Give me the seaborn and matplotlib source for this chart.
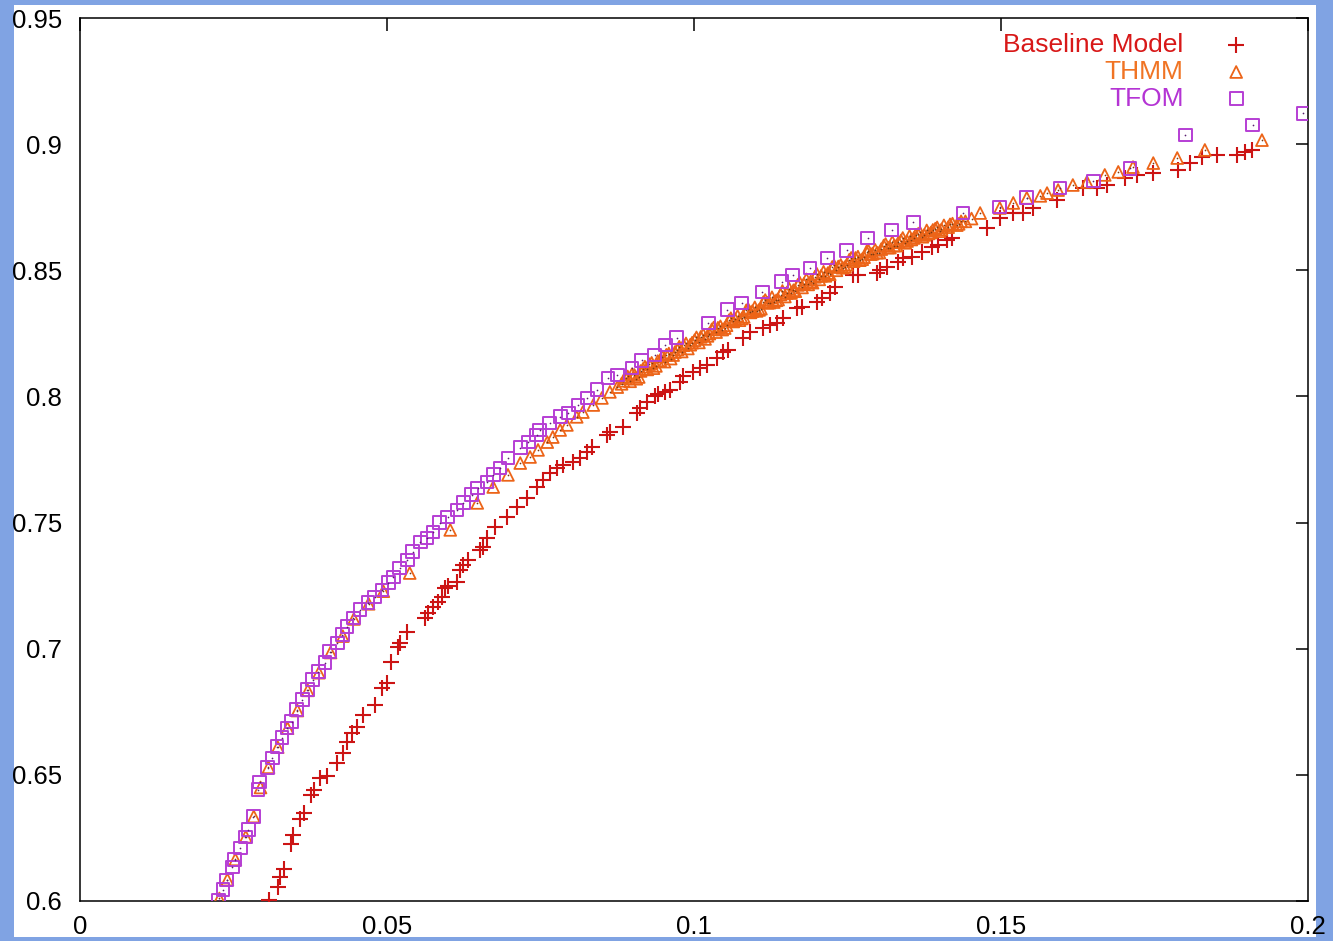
import matplotlib
matplotlib.use("Agg")
import matplotlib.pyplot as plt
import seaborn as sns
from matplotlib.patches import Rectangle

# ---- Baseline Model ----
base_x = [0.0308, 0.0322, 0.0326, 0.0332, 0.0344, 0.0347, 0.0358, 0.0365, 0.0376, 0.0381,
          0.0391, 0.0402, 0.0419, 0.0428, 0.0435, 0.0443, 0.0451, 0.0461, 0.0480, 0.0492,
          0.0500, 0.0507, 0.0518, 0.0521, 0.0533, 0.0562, 0.0567, 0.0575, 0.0583, 0.0590,
          0.0594, 0.0599, 0.0614, 0.0619, 0.0624, 0.0632, 0.0651, 0.0656, 0.0663, 0.0676,
          0.0695, 0.0712, 0.0728, 0.0744, 0.0754, 0.0765, 0.0777, 0.0787, 0.0803, 0.0814,
          0.0826, 0.0834, 0.0858, 0.0863, 0.0884, 0.0907, 0.0912, 0.0923, 0.0936, 0.0941,
          0.0953, 0.0961, 0.0977, 0.0982, 0.0998, 0.1010, 0.1021, 0.1037, 0.1047, 0.1055,
          0.1080, 0.1091, 0.1112, 0.1124, 0.1135, 0.1145, 0.1168, 0.1176, 0.1200, 0.1208,
          0.1221, 0.1230, 0.1259, 0.1267, 0.1298, 0.1303, 0.1314, 0.1332, 0.1340, 0.1355,
          0.1371, 0.1388, 0.1397, 0.1412, 0.1420, 0.1477, 0.1498, 0.1520, 0.1536, 0.1552,
          0.1591, 0.1634, 0.1656, 0.1673, 0.1702, 0.1722, 0.1748, 0.1788, 0.1808, 0.1827,
          0.1852, 0.1884, 0.1897, 0.1909]
base_y = [0.6004, 0.6055, 0.6095, 0.6127, 0.6226, 0.6262, 0.6325, 0.6349, 0.6420, 0.6440,
          0.6488, 0.6495, 0.6547, 0.6587, 0.6630, 0.6666, 0.6690, 0.6737, 0.6777, 0.6844,
          0.6864, 0.6947, 0.7007, 0.7023, 0.7066, 0.7122, 0.7141, 0.7165, 0.7185, 0.7205,
          0.7241, 0.7249, 0.7265, 0.7312, 0.7332, 0.7352, 0.7392, 0.7404, 0.7440, 0.7483,
          0.7523, 0.7563, 0.7598, 0.7642, 0.7670, 0.7698, 0.7717, 0.7729, 0.7741, 0.7757,
          0.7781, 0.7801, 0.7849, 0.7860, 0.7880, 0.7936, 0.7956, 0.7976, 0.8000, 0.8008,
          0.8019, 0.8027, 0.8059, 0.8079, 0.8098, 0.8114, 0.8126, 0.8153, 0.8177, 0.8185,
          0.8233, 0.8256, 0.8272, 0.8284, 0.8292, 0.8312, 0.8351, 0.8355, 0.8375, 0.8391,
          0.8411, 0.8434, 0.8482, 0.8482, 0.8490, 0.8502, 0.8513, 0.8533, 0.8549, 0.8553,
          0.8573, 0.8592, 0.8600, 0.8620, 0.8628, 0.8668, 0.8707, 0.8727, 0.8727, 0.8747,
          0.8779, 0.8826, 0.8826, 0.8838, 0.8866, 0.8878, 0.8886, 0.8898, 0.8925, 0.8949,
          0.8957, 0.8957, 0.8969, 0.8977]

# ---- THMM ----
thmm_x = [0.0227, 0.0240, 0.0253, 0.0270, 0.0283, 0.0294, 0.0307, 0.0322, 0.0338, 0.0354,
          0.0371, 0.0389, 0.0408, 0.0428, 0.0446, 0.0470, 0.0494, 0.0537, 0.0603, 0.0647,
          0.0673, 0.0697, 0.0717, 0.0733, 0.0746, 0.0761, 0.0770, 0.0782, 0.0793, 0.0809,
          0.0819, 0.0836, 0.0850, 0.0863, 0.0875,
          0.0882, 0.0889, 0.0896, 0.0903, 0.0910, 0.0917, 0.0924, 0.0931, 0.0938, 0.0945,
          0.0952, 0.0959, 0.0966, 0.0973, 0.0980, 0.0987, 0.0994, 0.1001, 0.1008, 0.1015,
          0.1022, 0.1029, 0.1036, 0.1043, 0.1050, 0.1057, 0.1064, 0.1071, 0.1078, 0.1085,
          0.1092, 0.1099, 0.1106, 0.1113, 0.1120, 0.1127, 0.1134, 0.1141, 0.1148, 0.1155,
          0.1162, 0.1169, 0.1176, 0.1183, 0.1190, 0.1197, 0.1204, 0.1211, 0.1218, 0.1225,
          0.1232, 0.1239, 0.1246, 0.1253, 0.1260, 0.1267, 0.1274, 0.1281, 0.1288, 0.1295,
          0.1302, 0.1309, 0.1316, 0.1323, 0.1330, 0.1337, 0.1344, 0.1351, 0.1358, 0.1365,
          0.1372, 0.1379, 0.1386, 0.1393, 0.1400, 0.1407, 0.1414, 0.1421, 0.1428, 0.1435,
          0.1442, 0.1452,
          0.0885, 0.0899, 0.0913, 0.0927, 0.0941, 0.0955, 0.0969, 0.0983, 0.0997, 0.1011,
          0.1025, 0.1039, 0.1053, 0.1067, 0.1081, 0.1095, 0.1109, 0.1123, 0.1137, 0.1151,
          0.1165, 0.1179, 0.1193, 0.1207, 0.1221, 0.1235, 0.1249, 0.1263, 0.1277, 0.1291,
          0.1305, 0.1319, 0.1333, 0.1347, 0.1361, 0.1375, 0.1389, 0.1403, 0.1417, 0.1431,
          0.0892, 0.0906, 0.0920, 0.0934, 0.0948, 0.0962, 0.0976, 0.0990, 0.1004, 0.1018,
          0.1032, 0.1046, 0.1060, 0.1074, 0.1088, 0.1102, 0.1116, 0.1130, 0.1144, 0.1158,
          0.1172, 0.1186, 0.1200, 0.1214, 0.1228, 0.1242, 0.1256, 0.1270, 0.1284, 0.1298,
          0.1312, 0.1326, 0.1340, 0.1354, 0.1368, 0.1382, 0.1396,
          0.1466, 0.1498, 0.1520, 0.1542, 0.1564, 0.1575, 0.1593, 0.1617, 0.1640, 0.1669,
          0.1691, 0.1715, 0.1748, 0.1787, 0.1832, 0.1925]
thmm_y = [0.6010, 0.6085, 0.6165, 0.6255, 0.6335, 0.6450, 0.6530, 0.6610, 0.6685, 0.6755,
          0.6835, 0.6905, 0.6985, 0.7050, 0.7118, 0.7178, 0.7228, 0.7300, 0.7471, 0.7578,
          0.7641, 0.7689, 0.7736, 0.7760, 0.7788, 0.7819, 0.7839, 0.7867, 0.7887, 0.7919,
          0.7938, 0.7966, 0.7994, 0.8018, 0.8037,
          0.8050, 0.8072, 0.8060, 0.8085, 0.8077, 0.8109, 0.8107, 0.8133, 0.8121, 0.8143,
          0.8138, 0.8170, 0.8164, 0.8186, 0.8178, 0.8210, 0.8205, 0.8223, 0.8214, 0.8245,
          0.8240, 0.8266, 0.8255, 0.8278, 0.8271, 0.8302, 0.8297, 0.8319, 0.8309, 0.8341,
          0.8333, 0.8353, 0.8343, 0.8374, 0.8371, 0.8393, 0.8381, 0.8404, 0.8396, 0.8427,
          0.8421, 0.8442, 0.8432, 0.8464, 0.8456, 0.8474, 0.8464, 0.8494, 0.8489, 0.8513,
          0.8500, 0.8521, 0.8513, 0.8542, 0.8536, 0.8554, 0.8544, 0.8574, 0.8564, 0.8581,
          0.8570, 0.8598, 0.8590, 0.8612, 0.8598, 0.8618, 0.8609, 0.8636, 0.8628, 0.8644,
          0.8633, 0.8658, 0.8650, 0.8665, 0.8655, 0.8678, 0.8671, 0.8685, 0.8679, 0.8694,
          0.8694, 0.8705,
          0.8062, 0.8088, 0.8101, 0.8128, 0.8140, 0.8165, 0.8176, 0.8203, 0.8213, 0.8236,
          0.8249, 0.8272, 0.8282, 0.8306, 0.8315, 0.8338, 0.8348, 0.8372, 0.8384, 0.8410,
          0.8417, 0.8446, 0.8451, 0.8478, 0.8484, 0.8515, 0.8522, 0.8549, 0.8552, 0.8566,
          0.8584, 0.8590, 0.8611, 0.8616, 0.8640, 0.8640, 0.8660, 0.8662, 0.8682, 0.8684,
          0.8079, 0.8070, 0.8118, 0.8112, 0.8158, 0.8150, 0.8197, 0.8190, 0.8234, 0.8228,
          0.8273, 0.8265, 0.8310, 0.8302, 0.8347, 0.8339, 0.8382, 0.8374, 0.8418, 0.8410,
          0.8452, 0.8444, 0.8486, 0.8478, 0.8519, 0.8510, 0.8549, 0.8540, 0.8578, 0.8570,
          0.8604, 0.8598, 0.8628, 0.8622, 0.8650, 0.8646, 0.8670,
          0.8727, 0.8747, 0.8767, 0.8787, 0.8795, 0.8806, 0.8818, 0.8838, 0.8850, 0.8878,
          0.8890, 0.8909, 0.8925, 0.8945, 0.8977, 0.9016]

# ---- TFOM ----
tfom_x = [0.0226, 0.0233, 0.0239, 0.0248, 0.0252, 0.0261, 0.0269, 0.0274, 0.0282, 0.0290,
          0.0293, 0.0306, 0.0313, 0.0321, 0.0329, 0.0337, 0.0345, 0.0353, 0.0362, 0.0370,
          0.0379, 0.0388, 0.0399, 0.0407, 0.0419, 0.0427, 0.0435, 0.0445, 0.0456, 0.0469,
          0.0480, 0.0492, 0.0502, 0.0510, 0.0521, 0.0533, 0.0542, 0.0554, 0.0565, 0.0575,
          0.0586, 0.0599, 0.0614, 0.0624, 0.0638, 0.0648, 0.0663, 0.0673, 0.0684, 0.0697,
          0.0717, 0.0730, 0.0744, 0.0749, 0.0765, 0.0782, 0.0795, 0.0811, 0.0826, 0.0842,
          0.0860, 0.0875, 0.0899, 0.0915, 0.0936, 0.0953, 0.0972, 0.1023, 0.1054, 0.1078,
          0.1111, 0.1143, 0.1161, 0.1189, 0.1217, 0.1249, 0.1283, 0.1322, 0.1357, 0.1438,
          0.1498, 0.1542, 0.1596, 0.1650, 0.1710, 0.1800, 0.1910, 0.1992]
tfom_y = [0.6004, 0.6044, 0.6083, 0.6135, 0.6163, 0.6210, 0.6254, 0.6282, 0.6334, 0.6441,
          0.6472, 0.6528, 0.6567, 0.6611, 0.6647, 0.6686, 0.6710, 0.6758, 0.6798, 0.6837,
          0.6877, 0.6909, 0.6944, 0.6988, 0.7023, 0.7055, 0.7087, 0.7122, 0.7154, 0.7182,
          0.7205, 0.7233, 0.7261, 0.7284, 0.7320, 0.7352, 0.7384, 0.7423, 0.7439, 0.7463,
          0.7499, 0.7522, 0.7550, 0.7578, 0.7610, 0.7637, 0.7661, 0.7689, 0.7716, 0.7756,
          0.7796, 0.7819, 0.7847, 0.7867, 0.7895, 0.7919, 0.7934, 0.7966, 0.7994, 0.8026,
          0.8073, 0.8085, 0.8113, 0.8144, 0.8164, 0.8204, 0.8232, 0.8291, 0.8343, 0.8370,
          0.8414, 0.8454, 0.8481, 0.8509, 0.8549, 0.8580, 0.8628, 0.8660, 0.8691, 0.8727,
          0.8751, 0.8787, 0.8826, 0.8854, 0.8905, 0.9036, 0.9076, 0.9123]

x_ticks = [0, 0.05, 0.1, 0.15, 0.2]
x_tick_labels = ["0", "0.05", "0.1", "0.15", "0.2"]
y_ticks = [0.6, 0.65, 0.7, 0.75, 0.8, 0.85, 0.9, 0.95]
y_tick_labels = ["0.6", "0.65", "0.7", "0.75", "0.8", "0.85", "0.9", "0.95"]

series_names = ["Baseline Model", "THMM", "TFOM"]
marker_colors = ["#cc1414", "#ec6418", "#b63ed4"]
text_colors = ["#d81818", "#f07424", "#b434d4"]

sns.set_theme(style="white")
plt.rcParams["font.family"] = ["Liberation Sans", "DejaVu Sans"]

W, H = 1333, 941
fig = plt.figure(figsize=(W / 100, H / 100), dpi=100)
fig.patch.set_facecolor("#80a3e3")
# white page area inside the blue frame
page = Rectangle((14 / W, 1 - 937 / H), (1316 - 14) / W, (937 - 5) / H,
                 transform=fig.transFigure, facecolor="white",
                 edgecolor="none", zorder=-10)
fig.patches.append(page)

ax = fig.add_axes([80 / W, 1 - 901 / H, 1228 / W, 883 / H])
ax.set_facecolor("none")
ax.patch.set_alpha(0)

# crosses
sns.scatterplot(x=base_x, y=base_y, ax=ax, marker="+", s=130, color=marker_colors[0],
                linewidth=1.5, label=series_names[0], zorder=3)
# open triangles with centre dot
sns.scatterplot(x=thmm_x, y=thmm_y, ax=ax, marker="^", s=72, color=marker_colors[1],
                facecolor="none", edgecolor=marker_colors[1], linewidth=1.3,
                label=series_names[1], zorder=4)
sns.scatterplot(x=thmm_x, y=thmm_y, ax=ax, marker="o", s=1.5, color="#7a3a10",
                linewidth=0, zorder=4)
# open squares with centre dot
sns.scatterplot(x=tfom_x, y=tfom_y, ax=ax, marker="s", s=85, color=marker_colors[2],
                facecolor="none", edgecolor=marker_colors[2], linewidth=1.4,
                label=series_names[2], zorder=5)
sns.scatterplot(x=tfom_x, y=tfom_y, ax=ax, marker="o", s=1.5, color="#5a2070",
                linewidth=0, zorder=5)

ax.set_xlim(0, 0.2)
ax.set_ylim(0.6, 0.95)
ax.set_xticks(x_ticks)
ax.set_xticklabels(x_tick_labels)
ax.set_yticks(y_ticks)
ax.set_yticklabels(y_tick_labels)
ax.set_xlabel("")
ax.set_ylabel("")
ax.tick_params(axis="both", direction="in", length=9, width=1.1, color="black",
               top=True, right=True, labelsize=18.5, labelcolor="black")
ax.tick_params(axis="x", pad=10)
ax.tick_params(axis="y", pad=13)
for sp in ax.spines.values():
    sp.set_color("black")
    sp.set_linewidth(1.1)
    sp.set_visible(True)

handles, labels = ax.get_legend_handles_labels()
pairs = [(h, l) for h, l in zip(handles, labels) if l in series_names]
leg = ax.legend([p[0] for p in pairs], [p[1] for p in pairs], loc="upper right",
                bbox_to_anchor=(0.963, 0.983), frameon=False, markerfirst=False,
                fontsize=19, handlelength=2.0, handletextpad=1.0, labelspacing=0.11,
                borderpad=0, borderaxespad=0)
for t, c in zip(leg.get_texts(), text_colors):
    t.set_color(c)

fig.savefig("out.png", dpi=100, facecolor=fig.get_facecolor())
